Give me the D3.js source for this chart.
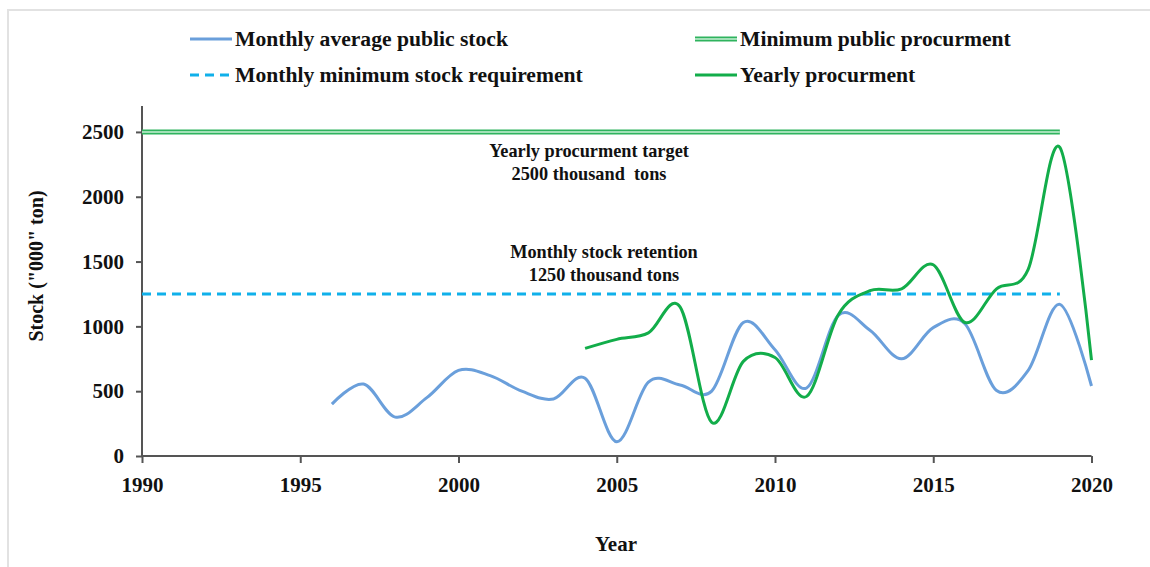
<!DOCTYPE html>
<html>
<head>
<meta charset="utf-8">
<style>
  body { margin: 0; background: #fff; }
  text { font-family: "Liberation Serif", "Times New Roman", serif; font-weight: bold; fill: #111; }
</style>
<script src="https://cdn.jsdelivr.net/npm/d3@7"></script>
</head>
<body>
<script>
// data ("000" ton)
const stockYears = [1996, 1997, 1998, 1999, 2000, 2001, 2002, 2003, 2004, 2005, 2006, 2007, 2008,
  2009, 2010, 2011, 2012, 2013, 2014, 2015, 2016, 2017, 2018, 2019, 2020];
const stockValues = [400, 555, 300, 450, 660, 620, 500, 440, 600, 110, 570, 548, 500,
  1030, 820, 525, 1085, 970, 750, 990, 1020, 505, 660, 1170, 540];

const procYears = [2004, 2005, 2006, 2007, 2008, 2009, 2010, 2011, 2012, 2013, 2014, 2015, 2016,
  2017, 2018, 2019, 2020];
const procValues = [830, 900, 950, 1150, 260, 730, 760, 460, 1090, 1275, 1290, 1475, 1030,
  1290, 1440, 2380, 740];

const targetLevel = 2500;     // minimum public procurement
const retentionLevel = 1250;  // monthly minimum stock requirement
const levelYears = [1990, 2019];

const yTicks = [0, 500, 1000, 1500, 2000, 2500];
const xTicks = [1990, 1995, 2000, 2005, 2010, 2015, 2020];

const W = 1150, H = 567;
const svg = d3.select("body").append("svg").attr("width", W).attr("height", H);

// faint frame of the original picture
svg.append("path").attr("d", "M8,567 V10 H1150").attr("fill", "none")
  .attr("stroke", "#e2e2e2").attr("stroke-width", 2);

const x = d3.scaleLinear().domain([1990, 2020]).range([142, 1091.5]);
const y = d3.scaleLinear().domain([0, 2700]).range([456, 106]);

const axisColor = "#555";

// axes
const yAxis = svg.append("g").attr("transform", "translate(142,0)")
  .call(d3.axisLeft(y).tickValues(yTicks).tickSize(6).tickPadding(12).tickFormat(d3.format("d")));
const xAxis = svg.append("g").attr("transform", "translate(0,456)")
  .call(d3.axisBottom(x).tickValues(xTicks).tickSize(7).tickPadding(14).tickFormat(d3.format("d")));
[xAxis, yAxis].forEach(a => {
  a.select(".domain").attr("stroke", axisColor).attr("stroke-width", 2);
  a.selectAll(".tick line").attr("stroke", axisColor).attr("stroke-width", 2);
  a.selectAll(".tick text").attr("font-size", 21).attr("fill", "#111")
    .style("font-family", '"Liberation Serif", "Times New Roman", serif').style("font-weight", "bold");
});
yAxis.select(".domain").attr("d", `M0,${y(2700)}V${y(0)}`);
xAxis.select(".domain").attr("d", `M${x(1990)},0H${x(2020)}`);

// axis titles
svg.append("text").attr("x", 616).attr("y", 551).attr("text-anchor", "middle")
  .attr("font-size", 21).text("Year");
svg.append("text").attr("transform", "translate(43,266) rotate(-90)").attr("text-anchor", "middle")
  .attr("font-size", 20).text('Stock ("000" ton)');

const lineGen = d3.line().x(d => x(d[0])).y(d => y(d[1])).curve(d3.curveLinear);

// minimum procurement: double line
const targetPts = levelYears.map(yr => [yr, targetLevel]);
svg.append("path").attr("d", lineGen(targetPts))
  .attr("fill", "none").attr("stroke", "#2fb35e").attr("stroke-width", 5);
svg.append("path").attr("d", lineGen(targetPts))
  .attr("fill", "none").attr("stroke", "#c9efd6").attr("stroke-width", 1.6);

// stock requirement: dashed
svg.append("path").attr("d", lineGen(levelYears.map(yr => [yr, retentionLevel])))
  .attr("fill", "none").attr("stroke", "#10b0ea").attr("stroke-width", 3)
  .attr("stroke-dasharray", "9,6");

// smoothed series, like the spreadsheet's smoothed lines
lineGen.curve(d3.curveCardinal.tension(0));

// monthly average stock
svg.append("path").attr("d", lineGen(d3.zip(stockYears, stockValues)))
  .attr("fill", "none").attr("stroke", "#6a9fdb").attr("stroke-width", 3);

// yearly procurement
svg.append("path").attr("d", lineGen(d3.zip(procYears, procValues)))
  .attr("fill", "none").attr("stroke", "#12ad4a").attr("stroke-width", 3);

// annotations
const notes = [
  { x: 589, y: 157, t: "Yearly procurment target" },
  { x: 589, y: 180, t: "2500 thousand\u00a0 tons" },
  { x: 604, y: 258, t: "Monthly stock retention" },
  { x: 604, y: 281, t: "1250 thousand tons" }
];
svg.selectAll("text.note").data(notes).join("text").attr("class", "note")
  .attr("x", d => d.x).attr("y", d => d.y).attr("text-anchor", "middle")
  .attr("font-size", 18.3).text(d => d.t);

// legend
const legend = [
  { x: 190, y: 39, t: "Monthly average public stock", kind: "stock" },
  { x: 695, y: 39, t: "Minimum public procurment", kind: "target" },
  { x: 190, y: 75, t: "Monthly minimum stock requirement", kind: "dash" },
  { x: 695, y: 75, t: "Yearly procurment", kind: "proc" }
];
const lg = svg.selectAll("g.lg").data(legend).join("g").attr("class", "lg")
  .attr("transform", d => `translate(${d.x},${d.y})`);
lg.each(function(d) {
  const g = d3.select(this);
  if (d.kind === "stock") {
    g.append("line").attr("x1", 0).attr("x2", 42).attr("stroke", "#6a9fdb").attr("stroke-width", 3);
  } else if (d.kind === "proc") {
    g.append("line").attr("x1", 0).attr("x2", 42).attr("stroke", "#12ad4a").attr("stroke-width", 3);
  } else if (d.kind === "dash") {
    g.append("line").attr("x1", 0).attr("x2", 42).attr("stroke", "#10b0ea").attr("stroke-width", 3)
      .attr("stroke-dasharray", "9,6");
  } else {
    g.append("line").attr("x1", 0).attr("x2", 42).attr("stroke", "#2fb35e").attr("stroke-width", 5);
    g.append("line").attr("x1", 0).attr("x2", 42).attr("stroke", "#c9efd6").attr("stroke-width", 1.6);
  }
  g.append("text").attr("x", 45).attr("y", 7).attr("font-size", 21.6).text(d.t);
});
</script>
</body>
</html>
